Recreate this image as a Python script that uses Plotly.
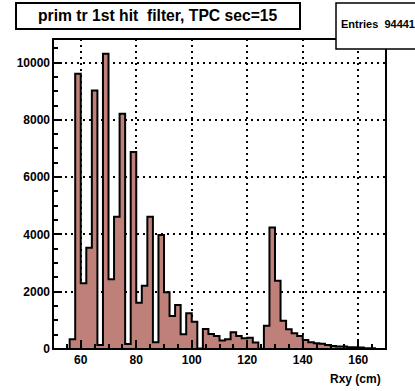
import plotly.graph_objects as go

# ---- data ----
bin_width = 2
bin_low_edges = [56, 58, 60, 62, 64, 66, 68, 70, 72, 74, 76, 78, 80, 82, 84, 86, 88,
                 90, 92, 94, 96, 98, 100, 102, 104, 106, 108, 110, 112, 114, 116, 118, 120, 122, 124,
                 126, 128, 130, 132, 134, 136, 138, 140, 142, 144, 146, 148, 150, 152, 154, 156, 158,
                 160, 162, 164]
counts = [341, 9610, 2293, 3533, 9028, 143, 10307, 2432, 4613, 8216, 178, 6878, 1617, 2209, 4613, 237, 3976,
          1979, 1153, 1537, 515, 1247, 955, 20, 700, 526, 456, 293, 341, 585, 456, 376, 397, 223, 10,
          815, 4244, 2383, 990, 690, 550, 456, 317, 237, 202, 179, 143, 108, 84, 84, 60, 60, 50, 25, 25]
title_text = "prim tr 1st hit  filter, TPC sec=15"
entries = 94441
x_title = "Rxy (cm)"
x_range = [50, 170]
y_max = 10822

FILL = "#bf8079"
FONT = "Liberation Sans"

centers = [e + bin_width / 2 for e in bin_low_edges]
step_x = [bin_low_edges[0]] + bin_low_edges + [bin_low_edges[-1] + bin_width]
step_y = [0] + counts + [0]

fig = go.Figure()
fig.add_trace(go.Bar(x=centers, y=counts, width=bin_width,
                     marker=dict(color=FILL, line=dict(width=0)),
                     showlegend=False, hoverinfo="skip"))
fig.add_trace(go.Scatter(x=step_x, y=step_y, mode="lines",
                         line=dict(color="black", width=2, shape="hv"),
                         showlegend=False, hoverinfo="skip"))

# pixel geometry helpers
L, R, T, B = 53, 386, 39, 349
W, H = 415, 391
def px(x):
    return (x - L) / (R - L)
def py(y):
    return (B - y) / (B - T)

axis_font = dict(family=FONT, size=12, color="black", weight="bold")

fig.update_layout(
    width=W, height=H,
    margin=dict(l=L, r=W - R, t=T, b=H - B),
    paper_bgcolor="white", plot_bgcolor="white",
    bargap=0,
    xaxis=dict(range=x_range, dtick=20, tick0=0, showgrid=True, gridcolor="black",
               gridwidth=1.5, griddash="2px,4px", zeroline=False, showline=False,
               ticks="inside", ticklen=9, tickwidth=1.5, tickcolor="black",
               tickfont=axis_font, ticklabelstandoff=2, tickformat="d",
               minor=dict(ticks="inside", ticklen=5, tickwidth=1.5, tickcolor="black", dtick=5, showgrid=False)),
    yaxis=dict(range=[0, y_max], dtick=2000, tick0=0, showgrid=True, gridcolor="black",
               gridwidth=1.5, griddash="2px,4px", zeroline=False, showline=False,
               ticks="inside", ticklen=9, tickwidth=1.5, tickcolor="black",
               tickfont=axis_font, ticklabelstandoff=2, tickformat="d",
               minor=dict(ticks="inside", ticklen=5, tickwidth=1.5, tickcolor="black", dtick=500, showgrid=False)),
    shapes=[
        dict(type="rect", xref="paper", yref="paper", x0=0, x1=1, y0=0, y1=1,
             line=dict(color="black", width=2), fillcolor="rgba(0,0,0,0)", layer="above"),
        dict(type="rect", xref="paper", yref="paper", x0=px(16), x1=px(300), y0=py(29), y1=py(3),
             line=dict(color="black", width=2), fillcolor="white", layer="above"),
        dict(type="rect", xref="paper", yref="paper", x0=px(336), x1=px(420), y0=py(49), y1=py(3),
             line=dict(color="black", width=1.5), fillcolor="white", layer="above"),
    ],
    annotations=[
        dict(text=title_text, xref="paper", yref="paper", x=px(158), y=py(16),
             xanchor="center", yanchor="middle", showarrow=False,
             font=dict(family=FONT, size=15.7, color="black", weight="bold")),
        dict(text="Entries  " + str(entries), xref="paper", yref="paper", x=px(339), y=py(24),
             xanchor="left", yanchor="middle", showarrow=False,
             font=dict(family=FONT, size=11, color="black", weight="bold")),
        dict(text=x_title, xref="paper", yref="paper", x=px(383), y=py(379),
             xanchor="right", yanchor="middle", showarrow=False,
             font=dict(family=FONT, size=12, color="black", weight="bold")),
    ],
)

fig.write_html("out.html", config={"displayModeBar": False},
               post_script="document.body.style.margin='0';document.body.style.overflow='hidden';")
